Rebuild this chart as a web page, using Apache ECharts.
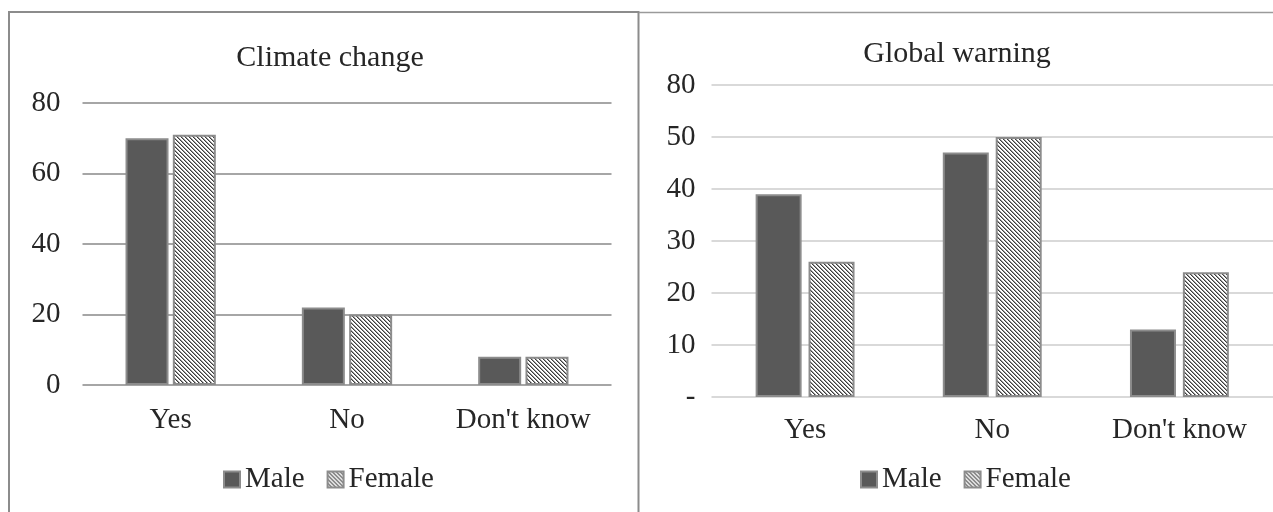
<!DOCTYPE html>
<html>
<head>
<meta charset="utf-8">
<title>Climate change / Global warning</title>
<script src="https://cdn.jsdelivr.net/npm/echarts@6/dist/echarts.min.js"></script>
<style>
  html, body { margin: 0; padding: 0; background: #fff; overflow: hidden; }
  #chart { width: 1273px; height: 512px; }
</style>
</head>
<body>
<div id="chart"></div>
<script>
// Survey answers by gender
const categories = ['Yes', 'No', "Don't know"];
const seriesNames = ['Male', 'Female'];
const climateMale = [70, 22, 8];
const climateFemale = [71, 20, 8];
const warningMale = [39, 47, 13];
const warningFemale = [26, 50, 24];
const climateTicks = ['0', '20', '40', '60', '80'];
const warningTicks = ['-', '10', '20', '30', '40', '50', '80'];

const FONT = "'Liberation Serif', 'Times New Roman', serif";
const TEXT = '#262626';

// Diagonal hatch tile for the Female bars
function hatchTile() {
  const c = document.createElement('canvas');
  c.width = 4; c.height = 4;
  const g = c.getContext('2d');
  g.fillStyle = '#ffffff';
  g.fillRect(0, 0, 4, 4);
  for (let i = 0; i < 4; i++) {
    g.fillStyle = '#3c3c3c';
    g.fillRect(i, i, 1, 1);
    g.fillStyle = '#9a9a9a';
    g.fillRect((i + 1) % 4, i, 1, 1);
  }
  return c;
}
const hatch = { image: hatchTile(), repeat: 'repeat' };

const maleStyle = { color: '#595959', borderColor: '#8c8c8c', borderWidth: 2 };
const femaleStyle = { color: hatch, borderColor: '#8c8c8c', borderWidth: 2 };

function barSeries(name, data, idx, style, width, gap) {
  return {
    type: 'bar', name: name, data: data,
    xAxisIndex: idx, yAxisIndex: idx,
    barWidth: width, barGap: gap,
    itemStyle: style,
    emphasis: { disabled: true }
  };
}

const axisText = { fontFamily: FONT, fontSize: 29, color: TEXT };
const legendBase = {
  data: seriesNames, icon: 'rect', top: 460, itemWidth: 16, itemHeight: 16, itemGap: 22,
  textStyle: { fontFamily: FONT, fontSize: 29, color: TEXT }
};

const chart = echarts.init(document.getElementById('chart'), null, { renderer: 'canvas' });
chart.setOption({
  animation: false,
  backgroundColor: '#ffffff',
  title: [
    { text: 'Climate change', left: 325, top: 38, textAlign: 'center',
      textStyle: { fontFamily: FONT, fontSize: 30, fontWeight: 'normal', color: TEXT } },
    { text: 'Global warning', left: 952, top: 34, textAlign: 'center',
      textStyle: { fontFamily: FONT, fontSize: 30, fontWeight: 'normal', color: TEXT } }
  ],
  legend: [
    Object.assign({ left: 218 }, legendBase),
    Object.assign({ left: 855 }, legendBase)
  ],
  grid: [
    { left: 82.5, right: 1273 - 611.5, top: 103, bottom: 127 },
    { left: 711.5, right: -14.5, top: 85, bottom: 115 }
  ],
  xAxis: [
    { type: 'category', gridIndex: 0, data: categories,
      axisLine: { show: false }, axisTick: { show: false },
      axisLabel: Object.assign({ margin: 21 }, axisText) },
    { type: 'category', gridIndex: 1, data: categories,
      axisLine: { show: false }, axisTick: { show: false },
      axisLabel: Object.assign({ margin: 19 }, axisText) }
  ],
  yAxis: [
    { type: 'value', gridIndex: 0, min: 0, max: 80, interval: 20,
      axisLine: { show: false }, axisTick: { show: false },
      axisLabel: Object.assign({ margin: 22, formatter: v => climateTicks[Math.round(v / 20)] }, axisText),
      splitLine: { show: true, lineStyle: { color: '#a6a6a6', width: 2 } } },
    { type: 'value', gridIndex: 1, min: 0, max: 60, interval: 10,
      axisLine: { show: false }, axisTick: { show: false },
      axisLabel: Object.assign({ margin: 16, formatter: v => warningTicks[Math.round(v / 10)] }, axisText),
      splitLine: { show: true, lineStyle: { color: '#d9d9d9', width: 2 } } }
  ],
  series: [
    barSeries(seriesNames[0], climateMale, 0, maleStyle, 43, '10%'),
    barSeries(seriesNames[1], climateFemale, 0, femaleStyle, 43, '10%'),
    barSeries(seriesNames[0], warningMale, 1, maleStyle, 46, '15%'),
    barSeries(seriesNames[1], warningFemale, 1, femaleStyle, 46, '15%')
  ],
  graphic: [
    // panel frames
    { type: 'polyline', silent: true, z: 100,
      shape: { points: [[9, 520], [9, 12], [638.5, 12], [638.5, 520]] },
      style: { stroke: '#8c8c8c', lineWidth: 2, fill: null } },
    { type: 'line', silent: true, z: 100,
      shape: { x1: 639, y1: 12.5, x2: 1273, y2: 12.5 },
      style: { stroke: '#9a9a9a', lineWidth: 1.5 } }
  ]
});
</script>
</body>
</html>
